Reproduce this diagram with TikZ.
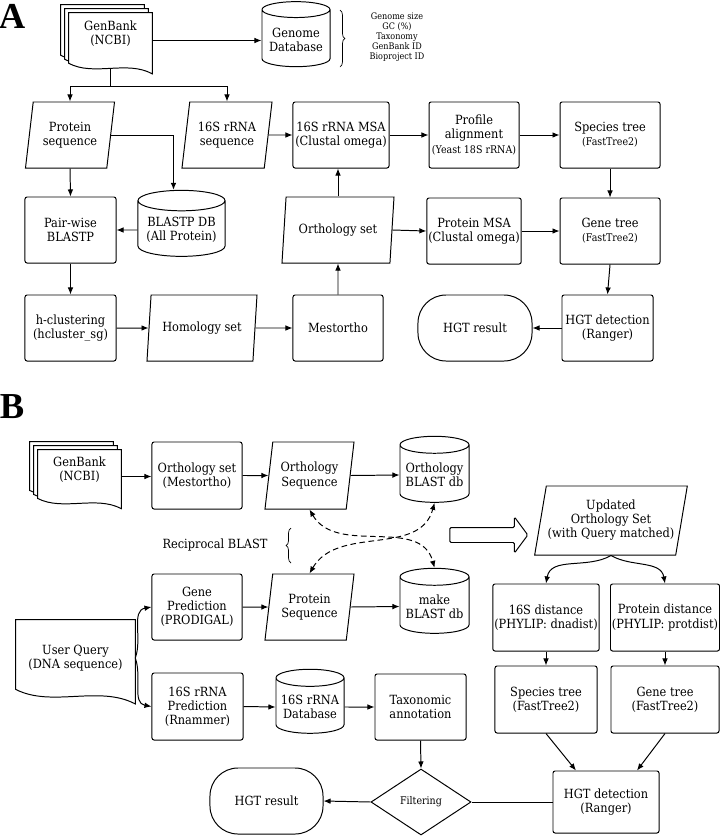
\documentclass[tikz,border=0pt]{standalone}
\usepackage{fontspec}
\setmainfont{DejaVu Serif Condensed}
\newfontfamily\panelfont{Liberation Serif}
\usepackage{tikz}
\usetikzlibrary{shapes.geometric, shapes.arrows, arrows.meta, positioning, calc, decorations.pathreplacing, backgrounds}
\tikzstyle{proc} = [rectangle, rounded corners=1.5pt, minimum height=1.65cm, align=center, draw, line width=0.7pt, inner sep=1pt]
\tikzstyle{data} = [trapezium, trapezium left angle=75, trapezium right angle=105, trapezium stretches body, minimum height=1.65cm, align=center, draw, line width=0.7pt, inner sep=1pt]
\tikzstyle{db} = [cylinder, shape border rotate=90, aspect=0.28, align=center, draw, line width=0.7pt, inner sep=1pt]
\tikzstyle{term} = [rectangle, rounded corners=0.7cm, minimum height=1.65cm, align=center, draw, line width=0.7pt]
\tikzstyle{decide} = [diamond, aspect=1.5, minimum width=2.5cm, minimum height=1.65cm, inner sep=0pt, draw, line width=0.7pt, font=\fontsize{7.5}{9}\selectfont]
\tikzstyle{docnode} = [rectangle, align=center, inner sep=0pt]
\tikzstyle{panel} = [inner sep=0pt, font=\panelfont\bfseries\fontsize{26}{28}\selectfont]
\tikzstyle{info} = [inner sep=0pt, align=center, font=\fontsize{6.4}{7.1}\selectfont]
\tikzstyle{bigarrow} = [single arrow, draw, line width=0.7pt, inner xsep=0pt, inner ysep=0.175cm, minimum height=1.95cm, minimum width=0.875cm, single arrow head extend=0.2625cm, single arrow tip angle=107, rounded corners=1pt]
\tikzstyle{arrow} = [line width=0.7pt, -{Latex[length=5pt,width=4pt]}]
\tikzstyle{link} = [line width=0.7pt]
\tikzstyle{recip} = [line width=0.7pt, dash pattern=on 4pt off 2.5pt, {Latex[length=5pt,width=4pt]}-{Latex[length=5pt,width=4pt]}]
\tikzstyle{curly} = [decorate, decoration={brace, amplitude=3.5pt}, line width=0.5pt]
\newcommand{\subtxt}[1]{{\fontsize{7.5}{9}\selectfont #1}}
% wavy document outline around a node, optional offset up-left for stacked pages
\newcommand{\docoutline}[2][0cm]{%
  \draw[line width=0.7pt, fill=white] let \p1=($(#2.north west)+(-#1,#1)$), \p2=($(#2.south east)+(-#1,#1)$), \n1={\x2-\x1}, \n2={\y1-\y2} in
    (\x1,\y1) -- (\x2,\y1) -- (\x2,\y2-0.1*\n2)
    .. controls (\x1+0.7*\n1,\y2+0.15*\n2) and (\x1+0.3*\n1,\y2-0.15*\n2) .. (\x1,\y2+0.09*\n2) -- cycle;}

\begin{document}
\begin{tikzpicture}[x=0.025cm, y=-0.025cm, every node/.style={font=\fontsize{9}{10}\selectfont}]
  \useasboundingbox (0,0) rectangle (720,836);

  % Panel A
  \node[panel] (labA) at (12,16) {A};
  \node[docnode, minimum width=2.075cm, minimum height=1.375cm, text depth=0.37cm] (gbA) at (110.5,40.5) {GenBank\\(NCBI)};
  \node[db, minimum width=1.7cm, minimum height=1.625cm] (gdb) at (296,39.5) {Genome\\Database};
  \coordinate (bAtop) at (340,10);
  \coordinate (bAbot) at (340,67);
  \node[info] (meta) at (397,37) {Genome size\\GC (\%)\\Taxonomy\\GenBank ID\\Bioproject ID};

  \node[data, minimum width=2.225cm] (pseqA) at (70,135) {Protein\\sequence};
  \node[data, minimum width=2.25cm] (rseqA) at (227,135) {16S rRNA\\sequence};
  \node[proc, minimum width=2.4cm] (msaA) at (341,135) {16S rRNA MSA\\(Clustal omega)};
  \node[proc, minimum width=2.25cm, right=0.975cm of msaA] (profA) {Profile\\alignment\\\subtxt{(Yeast 18S rRNA)}};
  \node[proc, minimum width=2.5cm, right=1cm of profA] (sptA) {Species tree\\\subtxt{(FastTree2)}};

  \node[proc, minimum width=2.275cm] (pwA) at (70.5,230) {Pair-wise\\BLASTP};
  \node[db, minimum width=2.175cm, minimum height=1.65cm] (bdbA) at (181.5,230) {BLASTP DB\\(All Protein)};
  \node[data, minimum width=2.8cm] (orthA) at (338,230) {Orthology set};
  \node[proc, minimum width=2.25cm, below=0.725cm of profA] (pmsaA) {Protein MSA\\(Clustal omega)};
  \node[proc, minimum width=2.5cm, below=0.725cm of sptA] (gtA) {Gene tree\\\subtxt{(FastTree2)}};

  \node[proc, minimum width=2.275cm, below=0.775cm of pwA] (hclA) {h-clustering\\(hcluster\_sg)};
  \node[data, minimum width=2.75cm] (homA) at (202,328) {Homology set};
  \node[proc, minimum width=2.25cm] (mesA) at (338,328) {Mestortho};
  \node[term, minimum width=2.85cm] (hgtrA) at (475,328) {HGT result};
  \node[proc, minimum width=2.275cm] (hgtdA) at (607.5,328) {HGT detection\\(Ranger)};

  % Panel B
  \node[panel] (labB) at (12,406.5) {B};
  \node[docnode, minimum width=2.075cm, minimum height=1.325cm, text depth=0.37cm] (gbB) at (79.5,476.5) {GenBank\\(NCBI)};
  \node[proc, minimum width=2.25cm, minimum height=1.675cm] (ortsB) at (197,475.5) {Orthology set\\(Mestortho)};
  \node[data, minimum width=2.225cm, minimum height=1.675cm] (oseqB) at (309.5,475.5) {Orthology\\Sequence};
  \node[db, minimum width=1.725cm, minimum height=1.65cm] (odbB) at (434.5,475) {Orthology\\BLAST db};
  \node[bigarrow] (fwd) at (486,535) {};
  \node[data, minimum width=3.7cm, minimum height=1.725cm] (updB) at (611,520.5) {Updated\\Orthology Set\\(with Query matched)};
  \node (recip) at (215,545) {Reciprocal BLAST};
  \coordinate (bBbot) at (291,563);
  \coordinate (bBtop) at (291,528);

  \node[proc, minimum width=2.25cm] (gpB) at (197,607) {Gene\\Prediction\\(PRODIGAL)};
  \node[data, minimum width=2.225cm] (pseqB) at (309.5,607) {Protein\\Sequence};
  \node[db, minimum width=1.725cm, minimum height=1.625cm] (mkdbB) at (434.5,606.5) {make\\BLAST db};
  \node[proc, minimum width=2.55cm, minimum height=1.675cm] (d16B) at (546,617.5) {16S distance\\(PHYLIP: dnadist)};
  \node[proc, minimum width=2.7cm, minimum height=1.675cm] (pdB) at (665,617.5) {Protein distance\\(PHYLIP: protdist)};
  \node[proc, minimum width=2.55cm, minimum height=1.675cm, below=0.35cm of d16B] (stB) {Species tree\\(FastTree2)};
  \node[proc, minimum width=2.7cm, minimum height=1.675cm, below=0.35cm of pdB] (gtB) {Gene tree\\(FastTree2)};

  \node[docnode, minimum width=2.975cm, minimum height=1.9cm] (uq) at (75.5,658) {User Query\\(DNA sequence)};
  \node[proc, minimum width=2.275cm, minimum height=1.675cm] (r16B) at (197.5,706.5) {16S rRNA\\Prediction\\(Rnammer)};
  \node[db, minimum width=1.7cm, minimum height=1.6cm] (rdbB) at (310,707) {16S rRNA\\Database};
  \node[proc, minimum width=2.275cm] (taxB) at (420.5,707) {Taxonomic\\annotation};
  \node[decide] (filtB) at (421,802) {Filtering};
  \node[term, minimum width=2.825cm] (hgtrB) at (266.5,801) {HGT result};
  \node[proc, minimum width=2.65cm, minimum height=1.55cm] (hgtdB) at (606,802) {HGT detection\\(Ranger)};

  % document shapes
  \begin{scope}[on background layer]
    \docoutline[0.2cm]{gbA}
    \docoutline[0.1cm]{gbA}
    \docoutline{gbA}
    \docoutline[0.2cm]{gbB}
    \docoutline[0.1cm]{gbB}
    \docoutline{gbB}
    \docoutline{uq}
  \end{scope}

  % Connectors A
  \coordinate (split) at ($(gbA.south)+(0,18)$);
  \draw[link] (gbA.south) -- (split);
  \draw[arrow] (split) -| (pseqA.north);
  \draw[arrow] (split) -| (rseqA.north);
  \draw[arrow] (gbA.east) -- (gbA.east -| gdb.west);
  \draw[curly] (bAtop) -- (bAbot);
  \draw[arrow] (pseqA.east) -| ([xshift=-0.2cm]bdbA.north);
  \draw[arrow] (pseqA.south) -- (pwA.north);
  \draw[arrow] (bdbA.west) -- (pwA.east);
  \draw[arrow] (pwA.south) -- (hclA.north);
  \draw[arrow] (hclA.east) -- (homA.west);
  \draw[arrow] (homA.east) -- (mesA.west);
  \draw[arrow] (mesA.north) -- (orthA.south);
  \draw[arrow] (orthA.north) -- (orthA.north |- msaA.south);
  \draw[arrow] (rseqA.east) -- (msaA.west);
  \draw[arrow] (msaA.east) -- (profA.west);
  \draw[arrow] (profA.east) -- (sptA.west);
  \draw[arrow] (orthA.east) -- (pmsaA.west);
  \draw[arrow] (pmsaA.east) -- (gtA.west);
  \draw[arrow] (sptA.south) -- (gtA.north);
  \draw[arrow] (gtA.south) -- (hgtdA.north);
  \draw[arrow] (hgtdA.west) -- (hgtrA.east);

  % Connectors B
  \draw[arrow] (gbB.east) -- (gbB.east -| ortsB.west);
  \draw[arrow] (ortsB.east) -- (oseqB.west);
  \draw[arrow] (oseqB.east) -- (odbB.west);
  \draw[arrow] (gpB.east) -- (pseqB.west);
  \draw[arrow] (pseqB.east) -- (mkdbB.west);
  \draw[recip] (oseqB.south) to[out=-60,in=105] (mkdbB.north);
  \draw[recip] (pseqB.north) to[out=60,in=-105] (odbB.south);
  \draw[curly] (bBbot) -- (bBtop);
  \draw[arrow] (uq.east) to[out=70,in=190] (gpB.west);
  \draw[arrow] (uq.east) to[out=-70,in=170] (r16B.west);
  \draw[arrow] (r16B.east) -- (rdbB.west);
  \draw[arrow] (rdbB.east) -- (taxB.west);
  \draw[arrow] (taxB.south) -- (filtB.north);
  \draw[arrow] (filtB.west) -- (hgtrB.east);
  \draw[link] (hgtdB.west) -- (filtB.east);
  \draw[arrow] (updB.south) to[out=-150,in=80] (d16B.north);
  \draw[arrow] (updB.south) to[out=-30,in=100] (pdB.north);
  \draw[arrow] (d16B.south) -- (stB.north);
  \draw[arrow] (pdB.south) -- (gtB.north);
  \draw[arrow] (stB.south) -- ([xshift=-0.75cm]hgtdB.north);
  \draw[arrow] (gtB.south) -- ([xshift=0.775cm]hgtdB.north);
\end{tikzpicture}
\end{document}
